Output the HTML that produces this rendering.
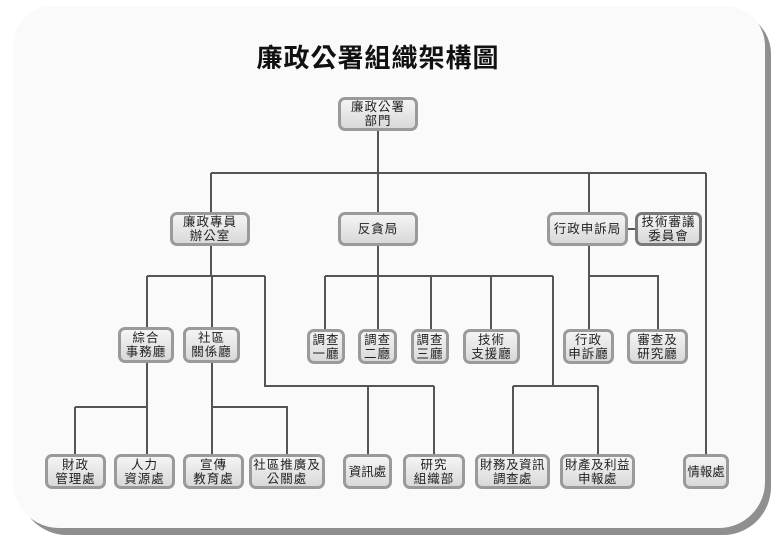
<!DOCTYPE html>
<html><head><meta charset="utf-8"><style>
html,body{margin:0;padding:0;background:#fff;}
body{width:781px;height:548px;position:relative;overflow:hidden;font-family:"Liberation Sans","Noto Sans CJK TC",sans-serif;}
.shadow{position:absolute;left:19px;top:12px;width:752px;height:523px;background:#8f8f8f;border-radius:42px 42px 48px 48px;}
.panel{position:absolute;left:13px;top:6px;width:752px;height:522px;background:#fafafa;border-radius:40px 40px 46px 46px;}
.title{position:absolute;left:0;width:756px;top:38px;text-align:center;font-size:26px;font-weight:bold;color:#111;letter-spacing:1px;}
svg{position:absolute;left:0;top:0;}
.b{position:absolute;box-sizing:border-box;border:3px solid #9a9a9a;border-radius:7px;background:linear-gradient(#f4f4f4,#d9d9d9);display:flex;align-items:center;justify-content:center;text-align:center;font-size:12.5px;line-height:14px;color:#222;letter-spacing:1px;white-space:nowrap;}
.d{border-color:#7a7a7a;}
</style></head><body>
<div class="shadow"></div>
<div class="panel"></div>
<div class="title">廉政公署組織架構圖</div>
<svg width="781" height="548" fill="none" stroke="#555" stroke-width="2">
<path d="M378 130V212 M211 173H706 M211 173V212 M589 173V212 M706 173V455"/>
<path d="M627 229H636"/>
<path d="M211 246V276 M147 276H265 M147 276V330 M212 276V330 M265 276V386H434 M368 386V455 M434 386V455"/>
<path d="M378 246V276 M325 276H553 M325 276V330 M378 276V330 M431 276V330 M491 276V330 M553 276V386 M513 386H598 M513 386V455 M598 386V455"/>
<path d="M589 246V276H658V330 M589 276V330"/>
<path d="M147 362V455 M75 407H147 M75 407V455 M212 362V455 M212 407H287V455"/>
</svg>
<div class="b" style="left:338px;top:97px;width:80px;height:34px">廉政公署<br>部門</div>
<div class="b" style="left:170px;top:212px;width:80px;height:34px">廉政專員<br>辦公室</div>
<div class="b" style="left:338px;top:212px;width:80px;height:34px">反貪局</div>
<div class="b" style="left:547px;top:212px;width:81px;height:34px">行政申訴局</div>
<div class="b d" style="left:635px;top:212px;width:67px;height:34px">技術審議<br>委員會</div>
<div class="b" style="left:118px;top:327px;width:56px;height:36px">綜合<br>事務廳</div>
<div class="b" style="left:183px;top:327px;width:57px;height:36px">社區<br>關係廳</div>
<div class="b" style="left:307px;top:329px;width:38px;height:35px">調查<br>一廳</div>
<div class="b" style="left:358px;top:329px;width:39px;height:35px">調查<br>二廳</div>
<div class="b" style="left:411px;top:329px;width:38px;height:35px">調查<br>三廳</div>
<div class="b" style="left:463px;top:329px;width:57px;height:35px">技術<br>支援廳</div>
<div class="b" style="left:563px;top:329px;width:51px;height:35px">行政<br>申訴廳</div>
<div class="b" style="left:627px;top:329px;width:61px;height:35px">審查及<br>研究廳</div>
<div class="b" style="left:45px;top:454px;width:61px;height:35px">財政<br>管理處</div>
<div class="b" style="left:114px;top:454px;width:61px;height:35px">人力<br>資源處</div>
<div class="b" style="left:183px;top:454px;width:61px;height:35px">宣傳<br>教育處</div>
<div class="b" style="left:249px;top:454px;width:76px;height:35px">社區推廣及<br>公關處</div>
<div class="b" style="left:343px;top:454px;width:49px;height:35px;letter-spacing:0">資訊處</div>
<div class="b" style="left:403px;top:454px;width:62px;height:35px">研究<br>組織部</div>
<div class="b" style="left:475px;top:454px;width:75px;height:35px;letter-spacing:0.5px">財務及資訊<br>調查處</div>
<div class="b" style="left:560px;top:454px;width:75px;height:35px;letter-spacing:0.5px">財產及利益<br>申報處</div>
<div class="b" style="left:683px;top:454px;width:46px;height:35px;letter-spacing:0">情報處</div>
</body></html>
